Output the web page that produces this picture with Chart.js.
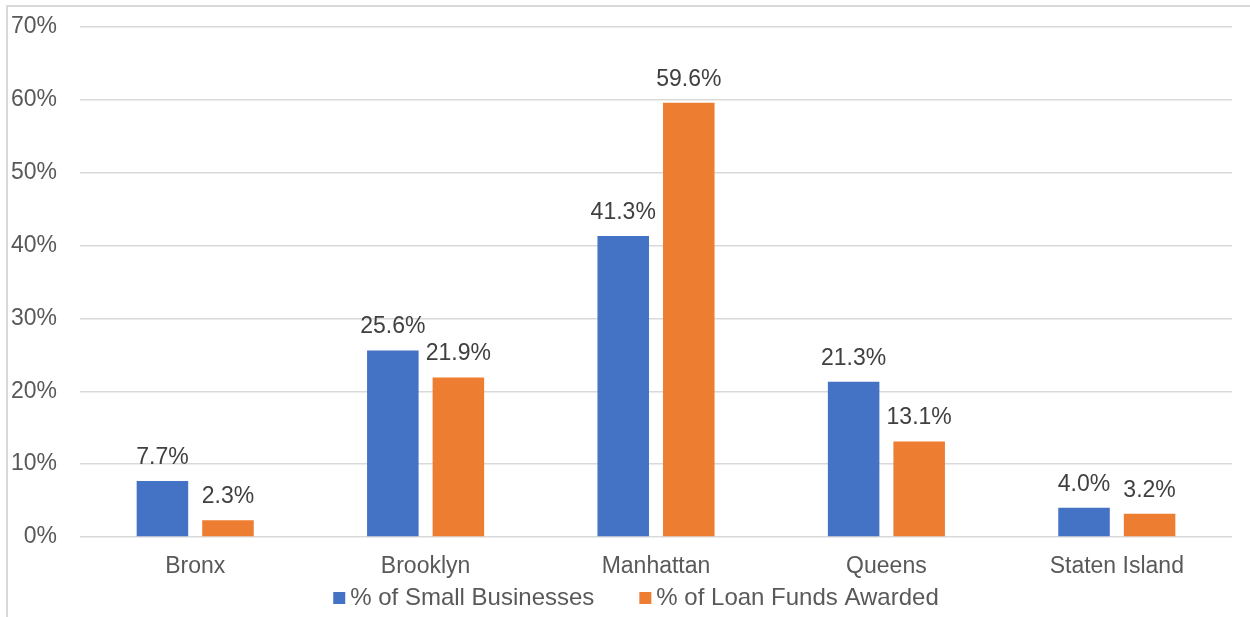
<!DOCTYPE html>
<html>
<head>
<meta charset="utf-8">
<script src="https://cdn.jsdelivr.net/npm/chart.js@4.4.1/dist/chart.umd.min.js"></script>
<style>
  body { margin: 0; background: #fff; }
  #wrap { position: relative; width: 1250px; height: 617px; }
  #frame { position: absolute; left: 6px; top: 5px; right: 0; bottom: 0; border-left: 2px solid #d9d9d9; border-top: 2px solid #d9d9d9; pointer-events: none; }
  canvas { position: absolute; left: 0; top: 0; }
</style>
</head>
<body>
<div id="wrap">
  <canvas id="chart" width="1250" height="617"></canvas>
  <div id="frame"></div>
</div>
<script>
const boroughs = ['Bronx', 'Brooklyn', 'Manhattan', 'Queens', 'Staten Island'];
const smallBusinesses = [7.7, 25.6, 41.3, 21.3, 4.0];
const loanFunds = [2.3, 21.9, 59.6, 13.1, 3.2];
const seriesNames = ['% of Small Businesses', '% of Loan Funds Awarded'];

const FONT = 'Liberation Sans, Arial, sans-serif';

// values above the bars
const barLabels = {
    id: 'barLabels',
    afterDatasetsDraw(chart) {
        const ctx = chart.ctx;
        ctx.save();
        ctx.font = '23px ' + FONT;
        ctx.fillStyle = '#404040';
        ctx.textAlign = 'center';
        ctx.textBaseline = 'bottom';
        chart.data.datasets.forEach((ds, i) => {
            chart.getDatasetMeta(i).data.forEach((bar, j) => {
                ctx.fillText(ds.data[j].toFixed(1) + '%', bar.x, bar.y - 12);
            });
        });
        ctx.restore();
    }
};

// excel-like legend under the axis (small square, tight gap)
const bottomLegend = {
    id: 'bottomLegend',
    afterDraw(chart) {
        const ctx = chart.ctx;
        ctx.save();
        ctx.font = '24px ' + FONT;
        ctx.textBaseline = 'middle';
        const box = 12, gap = 5, spacing = 45;
        const items = chart.data.datasets.map(ds => ({ text: ds.label, color: ds.backgroundColor, w: ctx.measureText(ds.label).width }));
        const total = items.reduce((s, it) => s + box + gap + it.w, 0) + spacing * (items.length - 1);
        let x = chart.width / 2 + 11 - total / 2;
        const y = 598;
        items.forEach(it => {
            ctx.fillStyle = it.color;
            ctx.fillRect(x, y - box / 2, box, box);
            ctx.fillStyle = '#595959';
            ctx.fillText(it.text, x + box + gap, y);
            x += box + gap + it.w + spacing;
        });
        ctx.restore();
    }
};

new Chart(document.getElementById('chart'), {
    type: 'bar',
    data: {
        labels: boroughs,
        datasets: [
            { label: seriesNames[0], data: smallBusinesses, backgroundColor: '#4472C4' },
            { label: seriesNames[1], data: loanFunds, backgroundColor: '#ED7D31' }
        ]
    },
    options: {
        responsive: false,
        animation: false,
        events: [],
        datasets: { bar: { categoryPercentage: 0.569, barPercentage: 0.786 } },
        layout: { padding: { left: 0, top: 27, right: 18, bottom: 34 } },
        scales: {
            x: {
                grid: { display: false },
                border: { display: false },
                ticks: { color: '#595959', font: { family: FONT, size: 23 }, padding: 8, maxRotation: 0, autoSkip: false },
                afterFit: s => { s.height = 46; }
            },
            y: {
                min: 0, max: 70,
                grid: { color: '#d9d9d9', lineWidth: 1.5, drawTicks: false },
                border: { display: false },
                ticks: { stepSize: 10, color: '#595959', font: { family: FONT, size: 23 }, padding: 23, callback: v => v + '%' },
                afterFit: s => { s.width = 80; s.paddingTop = 12; s.paddingBottom = 12; }
            }
        },
        plugins: {
            legend: { display: false },
            tooltip: { enabled: false }
        }
    },
    plugins: [barLabels, bottomLegend]
});
</script>
</body>
</html>
